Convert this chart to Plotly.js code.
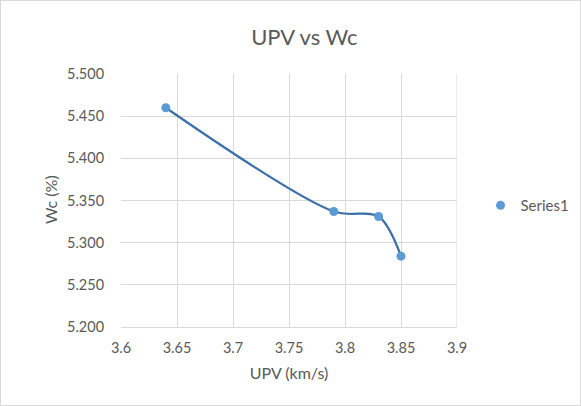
<!DOCTYPE html>
<html>
<head>
<meta charset="utf-8">
<script src="https://cdn.plot.ly/plotly-3.0.1.min.js"></script>
<style>
html,body{margin:0;padding:0;background:#fff;}
#chart{width:579px;height:404px;border:1px solid #d9d9d9;}
</style>
</head>
<body>
<div id="chart"></div>
<script>
const seriesName = "Series1";
const upv = [3.64, 3.79, 3.83, 3.85];
const wc = [5.460, 5.337, 5.331, 5.284];
const xTicks = [3.6, 3.65, 3.7, 3.75, 3.8, 3.85, 3.9];
const yTicks = [5.2, 5.25, 5.3, 5.35, 5.4, 5.45, 5.5];

const font = "Lato, 'Open Sans', sans-serif";
const grey = "#595959";

Plotly.newPlot("chart", [{
  x: upv, y: wc, name: seriesName, type: "scatter", mode: "lines", showlegend: false,
  line: {shape: "spline", smoothing: 0.9, color: "#3b6fa8", width: 2.2}
}, {
  x: upv, y: wc, name: seriesName, type: "scatter", mode: "markers",
  marker: {color: "#5b9bd5", size: 9}
}], {
  width: 579, height: 404,
  margin: {l: 120, r: 123, t: 73, b: 78, autoexpand: false},
  paper_bgcolor: "#fff", plot_bgcolor: "#fff",
  font: {family: font, color: grey, size: 14.5},
  title: {text: "UPV vs Wc", font: {family: font, size: 22, color: grey}, x: 0.524, xanchor: "center", y: 0.91, yanchor: "middle"},
  showlegend: true,
  legend: {x: 1.07, y: 0.48, xanchor: "left", yanchor: "middle", font: {size: 15, color: grey}, itemwidth: 30},
  xaxis: {
    range: [3.6, 3.9], tickvals: xTicks, ticktext: xTicks.map(String),
    showgrid: true, gridcolor: "#d9d9d9", zeroline: false,
    showline: true, linecolor: "#d9d9d9", mirror: false,
    ticks: "outside", ticklen: 8, tickcolor: "rgba(0,0,0,0)",
    tickfont: {size: 14.5, color: grey},
    title: {text: "UPV (km/s)", font: {size: 16, color: grey}, standoff: 12}
  },
  yaxis: {
    range: [5.2, 5.5], tickvals: yTicks, ticktext: yTicks.map(v => v.toFixed(3)),
    showgrid: true, gridcolor: "#d9d9d9", zeroline: false,
    showline: false,
    ticks: "outside", ticklen: 13, tickcolor: "rgba(0,0,0,0)",
    tickfont: {size: 14.5, color: grey}
  },
  annotations: [{text: "Wc (%)", xref: "paper", yref: "paper", x: -0.208, y: 0.502, textangle: -90,
    showarrow: false, xanchor: "center", yanchor: "middle", font: {size: 16, color: grey}}],
  shapes: [{type: "line", xref: "x", yref: "paper", x0: 3.9, x1: 3.9, y0: 0, y1: 1, line: {color: "#d9d9d9", width: 1}}]
}, {displayModeBar: false, staticPlot: true});
</script>
</body>
</html>
